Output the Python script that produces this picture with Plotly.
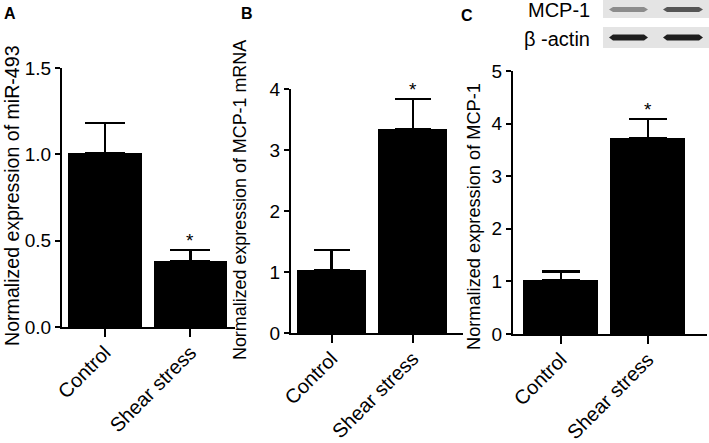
import plotly.graph_objects as go

categories = ["Control", "Shear stress"]

# Panel A: miR-493
a_values = [1.01, 0.38]
a_errors = [0.17, 0.065]
# Panel B: MCP-1 mRNA
b_values = [1.03, 3.34]
b_errors = [0.33, 0.49]
# Panel C: MCP-1 protein
c_values = [1.02, 3.72]
c_errors = [0.17, 0.36]
sig = ["", "*"]

# Western blot band intensities (grey levels) for [Control, Shear stress]
blot_rows = ["MCP-1", "β -actin"]
blot_gray = [[140, 85], [30, 30]]

FONT = "Liberation Sans, Arial, sans-serif"
W, H = 709, 443

def px(x):
    return x / W

def py(y):
    return 1 - y / H

fig = go.Figure()

panels = [
    dict(vals=a_values, errs=a_errors, xa="x", ya="y", width=0.86, cap=20,
         xdom=[px(62), px(235)], ydom=[py(327), py(68)], yr=[0, 1.5], dt=0.5,
         fmt=".1f", xr=[-0.5, 1.52],
         title="Normalized expression of miR-493", tx=12, ty=196, tfs=19.6),
    dict(vals=b_values, errs=b_errors, xa="x2", ya="y2", width=0.85, cap=18,
         xdom=[px(291), px(463)], ydom=[py(333), py(89)], yr=[0, 4], dt=1,
         fmt="d", xr=[-0.5, 1.62],
         title="Normalized expression of MCP-1 mRNA", tx=240, ty=200, tfs=17.9),
    dict(vals=c_values, errs=c_errors, xa="x3", ya="y3", width=0.86, cap=19,
         xdom=[px(513), px(707)], ydom=[py(334), py(71)], yr=[0, 5], dt=1,
         fmt="d", xr=[-0.55, 1.68],
         title="Normalized expression of MCP-1", tx=474, ty=217, tfs=18.2),
]

for i, p in enumerate(panels):
    fig.add_trace(go.Bar(
        x=[0, 1], y=p["vals"], width=p["width"],
        marker=dict(color="black", line=dict(width=0)),
        error_y=dict(type="data", array=p["errs"], arrayminus=[0, 0],
                     symmetric=False, color="black", thickness=2.2,
                     width=p["cap"]),
        xaxis=p["xa"], yaxis=p["ya"], showlegend=False,
    ))
    sfx = "" if i == 0 else str(i + 1)
    fig.update_layout(**{
        "xaxis" + sfx: dict(
            domain=p["xdom"], range=p["xr"], anchor=p["ya"],
            tickvals=[0, 1], ticktext=categories, tickangle=-45,
            ticks="outside", ticklen=8, tickwidth=2, tickcolor="black",
            ticklabelstandoff=-4,
            showline=True, linecolor="black", linewidth=2,
            showgrid=False, zeroline=False, fixedrange=True, automargin=False,
            tickfont=dict(family=FONT, size=20, color="black"),
        ),
        "yaxis" + sfx: dict(
            domain=p["ydom"], range=p["yr"], anchor=p["xa"], dtick=p["dt"],
            tick0=0, tickformat=p["fmt"],
            ticks="outside", ticklen=5, tickwidth=2, tickcolor="black",
            showline=True, linecolor="black", linewidth=2,
            showgrid=False, zeroline=False, fixedrange=True, automargin=False,
            tickfont=dict(family=FONT, size=19, color="black"),
        ),
    })
    # y-axis title
    fig.add_annotation(text=p["title"], textangle=-90, xref="paper",
                       yref="paper", x=px(p["tx"]), y=py(p["ty"]),
                       showarrow=False, xanchor="center", yanchor="middle",
                       font=dict(family=FONT, size=p["tfs"], color="black"))
    # significance asterisks above error caps
    for j in range(2):
        if sig[j]:
            fig.add_annotation(text=sig[j], x=j, y=p["vals"][j] + p["errs"][j],
                               xref=p["xa"], yref=p["ya"], showarrow=False,
                               yanchor="bottom", yshift=-3,
                               font=dict(family=FONT, size=19, color="black"))

# panel letters
for letter, lx, ly in [("A", 10, 14), ("B", 247, 14), ("C", 467, 15)]:
    fig.add_annotation(text="<b>%s</b>" % letter, x=px(lx), y=py(ly),
                       xref="paper", yref="paper", showarrow=False,
                       xanchor="center", yanchor="middle",
                       font=dict(family=FONT, size=16, color="black"))

# western blot inset
box_y = [(0, 18), (27, 48)]
band_x = [(609, 648), (663, 703)]
band_cy = [9.5, 37.5]
band_h = [5, 6]
for r, row in enumerate(blot_rows):
    y0, y1 = box_y[r]
    fig.add_shape(type="rect", xref="paper", yref="paper",
                  x0=px(603), x1=px(709), y0=py(y1), y1=py(y0),
                  fillcolor="#e4e4e4", line=dict(width=0), layer="below")
    for c in range(2):
        g = blot_gray[r][c]
        x0, x1 = band_x[c]
        cy = band_cy[r]
        hh = band_h[r] / 2
        pts = [(x0, cy), (x0 + 4, cy - hh), (x1 - 4, cy - hh), (x1, cy),
               (x1 - 4, cy + hh), (x0 + 4, cy + hh)]
        path = "M " + " L ".join("%.5f,%.5f" % (px(a), py(b)) for a, b in pts) + " Z"
        fig.add_shape(type="path", xref="paper", yref="paper", path=path,
                      fillcolor="rgb(%d,%d,%d)" % (g, g, g),
                      line=dict(width=0))
    fig.add_annotation(text=row, x=px(592), y=py((y0 + y1) / 2 + 1),
                       xref="paper", yref="paper", showarrow=False,
                       xanchor="right", yanchor="middle",
                       font=dict(family=FONT, size=20, color="black"))

fig.update_layout(
    width=W, height=H, margin=dict(l=0, r=0, t=0, b=0),
    paper_bgcolor="white", plot_bgcolor="white", bargap=0,
    font=dict(family=FONT, color="black"),
)

fig.write_html(
    "out.html",
    config={"displayModeBar": False},
    post_script="document.body.style.margin='0';document.body.style.overflow='hidden';",
)
